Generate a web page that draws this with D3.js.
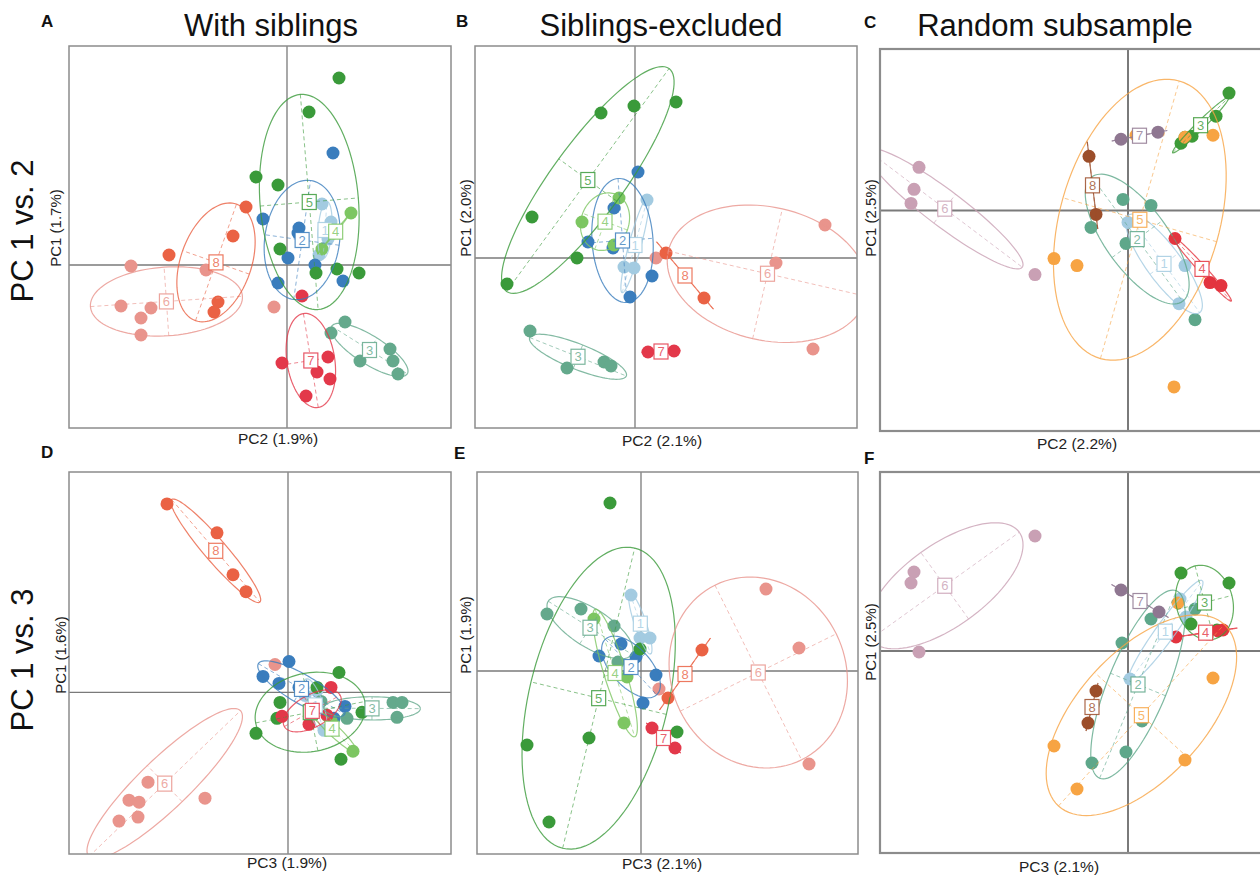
<!DOCTYPE html>
<html>
<head>
<meta charset="utf-8">
<script src="https://cdn.jsdelivr.net/npm/d3@7"></script>
<style>
  body { margin: 0; background: #fff; }
  svg { font-family: Arial, "Liberation Sans", sans-serif; }
</style>
</head>
<body>
<svg id="chart" width="1260" height="875"></svg>
<script>
// class labels and colours
const groups = ["1", "2", "3", "4", "5", "6", "7", "8"];
const siblingColors = ["#a3cbe1", "#3a7dbd", "#64a98c", "#7dc662", "#3a9a3a", "#e9948c", "#e3384a", "#ea6244"];
const randomColors = ["#a3cbe1", "#5ea78a", "#3d9b38", "#e3343f", "#f7a443", "#c9a0b4", "#8f7791", "#9c4e2a"];

const colTitles = ["With siblings", "Siblings-excluded", "Random subsample"];
const rowTitles = ["PC 1 vs. 2", "PC 1 vs. 3"];
const panelLetters = ["A", "B", "C", "D", "E", "F"];
const xLabels = ["PC2 (1.9%)", "PC2 (2.1%)", "PC2 (2.2%)", "PC3 (1.9%)", "PC3 (2.1%)", "PC3 (2.1%)"];
const yLabels = ["PC1 (1.7%)", "PC1 (2.0%)", "PC1 (2.5%)", "PC1 (1.6%)", "PC1 (1.9%)", "PC1 (2.5%)"];

// visible extent of each panel, in score units
const xDomains = [[-21.8, 16.4], [-16.0, 22.2], [-24.8, 13.5], [-21.9, 16.3], [-16.4, 21.7], [-24.8, 13.5]];
const yDomains = [[-16.3, 21.9], [-17.0, 21.2], [-22.0, 16.1], [-16.2, 22.1], [-18.3, 19.9], [-20.2, 17.9]];

// scores per class, [x, y]
const scoresA = {
  "1": [[3.5, 6.1], [4.4, 4.3], [4.1, 2.6], [3.2, 1.0]],
  "2": [[4.6, 11.2], [-2.4, 4.6], [1.2, 3.7], [1.1, 3.2], [0.1, 0.7], [-0.9, -1.8], [2.8, 0.0], [5.6, -1.6]],
  "3": [[5.8, -5.7], [4.4, -6.8], [10.3, -8.4], [10.6, -9.6], [11.1, -10.9], [7.3, -9.6]],
  "4": [[6.4, 5.2], [4.7, 3.2], [3.5, 1.6]],
  "5": [[5.2, 18.7], [2.2, 15.3], [-3.1, 8.8], [-0.9, 8.0], [-0.7, 1.6], [5.0, -0.4], [7.2, -0.8], [2.9, -0.8]],
  "6": [[-15.6, -0.1], [-16.6, -4.1], [-14.6, -5.3], [-13.6, -4.3], [-14.6, -7.0], [-1.3, -4.2], [-8.1, -0.5]],
  "7": [[1.5, -3.1], [-0.5, -9.8], [4.1, -9.2], [3.0, -10.7], [4.3, -11.4], [1.9, -13.1]],
  "8": [[-4.1, 5.8], [-5.4, 2.9], [-11.8, 1.0], [-6.9, -3.7], [-7.3, -4.7]]
};
const scoresB = {
  "1": [[1.2, 5.8], [-1.1, -0.9], [-0.1, -1.0]],
  "2": [[0.3, 8.6], [-2.1, 5.0], [-4.7, 1.6], [-2.2, 1.0], [1.7, -1.8], [-0.5, -3.9]],
  "3": [[-10.5, -7.3], [-6.8, -11.0], [-3.1, -10.4], [-2.4, -10.8]],
  "4": [[-5.3, 3.6], [-2.1, 1.3], [-1.6, 6.0]],
  "5": [[4.1, 15.6], [-0.1, 15.2], [-3.4, 14.5], [-10.3, 4.1], [-5.8, 0.0], [-12.8, -2.6]],
  "6": [[19.0, 3.3], [14.1, -0.5], [2.1, 0.0], [17.8, -9.1]],
  "7": [[1.3, -9.4], [3.9, -9.3]],
  "8": [[3.1, 0.5], [6.9, -4.0]]
};
const scoresC = {
  "1": [[0.0, -1.2], [5.7, -5.5], [5.1, -9.3]],
  "2": [[-0.5, 1.1], [2.3, 0.5], [-3.7, -1.7], [-0.2, -3.3], [6.7, -10.9]],
  "3": [[10.1, 11.7], [8.8, 9.4], [6.4, 7.4], [5.7, 7.3], [5.3, 6.7]],
  "4": [[4.7, -2.8], [8.2, -7.2], [9.3, -7.5]],
  "5": [[5.7, 7.3], [8.5, 7.5], [-7.4, -4.8], [-5.1, -5.5], [4.6, -17.6], [0.8, 7.5]],
  "6": [[-20.9, 4.3], [-21.4, 2.1], [-21.7, 0.7], [-9.3, -6.4]],
  "7": [[-0.7, 7.1], [3.0, 7.8]],
  "8": [[-3.9, 5.4], [-3.2, -0.4]]
};
const scoresD = {
  "1": [[2.9, 0.2], [3.6, -3.8], [1.7, -0.3]],
  "2": [[0.1, 3.1], [-2.5, 1.6], [-0.9, 0.9], [1.1, 0.5], [5.7, -1.4], [4.6, -2.6]],
  "3": [[5.9, -2.6], [10.5, -1.0], [11.4, -1.0], [10.9, -2.5], [3.3, -0.9]],
  "4": [[6.5, -5.9], [4.3, -2.8], [2.4, -2.2]],
  "5": [[5.1, 2.0], [-0.8, -1.0], [-1.1, -2.6], [-3.2, -4.1], [7.4, -2.0], [5.3, -6.7], [2.9, 0.5]],
  "6": [[-14.0, -9.0], [-15.9, -10.8], [-14.9, -11.0], [-16.9, -12.9], [-15.0, -12.5], [-8.3, -10.6], [-1.3, 2.8]],
  "7": [[4.3, 0.5], [-0.6, -2.4], [2.1, -3.2], [3.9, -2.3]],
  "8": [[-12.1, 18.9], [-7.1, 16.0], [-5.5, 11.8], [-4.2, 10.1]]
};
const scoresE = {
  "1": [[-1.0, 7.6], [-0.1, 3.3], [0.9, 3.3]],
  "2": [[-2.0, 2.7], [-4.2, 1.5], [-0.5, 1.4], [1.5, -0.4], [0.2, -3.2]],
  "3": [[-9.4, 5.7], [-6.0, 6.2], [-2.7, 4.5], [-2.3, 0.9]],
  "4": [[-4.7, 5.2], [-1.4, -0.6], [-1.7, -5.2]],
  "5": [[-3.1, 16.8], [-11.4, -7.4], [-5.2, -6.7], [-9.2, -15.1], [3.6, -6.1], [-0.1, 2.2]],
  "6": [[12.5, 8.2], [15.8, 2.3], [1.8, -1.8], [16.8, -9.3]],
  "7": [[1.1, -5.7], [3.4, -7.7]],
  "8": [[6.1, 2.1], [2.7, -2.7]]
};
const scoresF = {
  "1": [[5.2, 5.2], [5.8, 3.4], [0.2, -2.8]],
  "2": [[2.3, 3.2], [6.7, 4.2], [-0.6, 0.8], [1.4, -7.0], [-0.2, -10.1], [-3.6, -11.2]],
  "3": [[5.3, 7.8], [10.1, 6.8], [6.3, 2.7], [8.9, 2.1]],
  "4": [[4.8, 1.4], [9.0, 2.0], [9.5, 2.1]],
  "5": [[5.0, 4.8], [8.5, -2.7], [-7.4, -9.5], [5.7, -10.9], [-5.1, -13.8]],
  "6": [[-9.3, 11.5], [-21.4, 7.9], [-21.7, 6.8], [-20.9, -0.1]],
  "7": [[-0.7, 6.1], [3.1, 3.9]],
  "8": [[-3.2, -4.0], [-4.0, -7.2]]
};

// layout
const frames = [[69, 46, 451, 428], [475, 46, 857, 428], [880, 49, 1263, 431],
                [69, 472, 451, 854], [477, 472, 858, 854], [880, 472, 1263, 853]];
const panelScores = [scoresA, scoresB, scoresC, scoresD, scoresE, scoresF];
const panelColors = [siblingColors, siblingColors, randomColors, siblingColors, siblingColors, randomColors];
const ellipseCoef = 1.5;

const svg = d3.select("#chart");

// titles
const titleX = [271, 661, 1055];
colTitles.forEach((t, i) => {
  svg.append("text").attr("x", titleX[i]).attr("y", 36)
    .attr("text-anchor", "middle").attr("font-size", 31).attr("fill", "#111").text(t);
});
const rowY = [231, 660];
rowTitles.forEach((t, i) => {
  svg.append("text").attr("transform", `translate(33,${rowY[i]}) rotate(-90)`)
    .attr("text-anchor", "middle").attr("font-size", 31).attr("fill", "#111").text(t);
});

const letterPos = [[41, 27], [456, 27], [864, 28], [41, 458], [454, 459], [864, 464]];
const xLabelPos = [[278, 444], [662, 446], [1077, 449], [287, 868], [662, 869], [1059, 872]];
const yLabelPos = [[61, 228], [471, 218], [876, 218], [66, 655], [471, 635], [876, 642]];

function classStats(pts) {
  const n = pts.length;
  const mx = d3.mean(pts, p => p[0]);
  const my = d3.mean(pts, p => p[1]);
  let vx = 0, vy = 0, cxy = 0;
  pts.forEach(([x, y]) => {
    vx += (x - mx) ** 2 / n;
    vy += (y - my) ** 2 / n;
    cxy += (x - mx) * (y - my) / n;
  });
  const delta = Math.sqrt((vx - vy) ** 2 + 4 * cxy * cxy);
  let l1 = (vx + vy + delta) / 2;
  let l2 = vx + vy - l1;
  l1 = Math.sqrt(Math.max(l1, 0));
  l2 = Math.sqrt(Math.max(l2, 0));
  const theta = 0.5 * Math.atan2(2 * cxy, vx - vy);
  return {mx, my, l1, l2, c: Math.cos(theta), s: Math.sin(theta)};
}

panelScores.forEach((scores, pi) => {
  const [x0, y0, x1, y1] = frames[pi];
  const x = d3.scaleLinear().domain(xDomains[pi]).range([x0, x1]);
  const y = d3.scaleLinear().domain(yDomains[pi]).range([y1, y0]);
  const color = d3.scaleOrdinal().domain(groups).range(panelColors[pi]);
  const thick = pi % 3 === 2 ? 2 : 1.3;

  const g = svg.append("g");
  g.append("clipPath").attr("id", "clip" + pi)
    .append("rect").attr("x", x0).attr("y", y0).attr("width", x1 - x0).attr("height", y1 - y0);

  // axes through origin
  g.append("line").attr("x1", x0).attr("x2", x1).attr("y1", y(0)).attr("y2", y(0))
    .attr("stroke", "#7a7a7a").attr("stroke-width", thick);
  g.append("line").attr("x1", x(0)).attr("x2", x(0)).attr("y1", y0).attr("y2", y1)
    .attr("stroke", "#7a7a7a").attr("stroke-width", thick);

  const plot = g.append("g").attr("clip-path", `url(#clip${pi})`);

  // points
  groups.forEach(k => {
    plot.selectAll(null).data(scores[k]).join("circle")
      .attr("cx", d => x(d[0])).attr("cy", d => y(d[1])).attr("r", 6.5)
      .attr("fill", color(k));
  });

  // ellipses with their (dashed) axes
  groups.forEach(k => {
    const st = classStats(scores[k]);
    const col = color(k);
    const a = ellipseCoef * st.l1, b = ellipseCoef * st.l2;
    const axes = [
      [[st.mx - a * st.c, st.my - a * st.s], [st.mx + a * st.c, st.my + a * st.s]],
      [[st.mx + b * st.s, st.my - b * st.c], [st.mx - b * st.s, st.my + b * st.c]]
    ];
    plot.selectAll(null).data(axes).join("line")
      .attr("x1", d => x(d[0][0])).attr("y1", d => y(d[0][1]))
      .attr("x2", d => x(d[1][0])).attr("y2", d => y(d[1][1]))
      .attr("stroke", col).attr("stroke-opacity", 0.6).attr("stroke-width", 1)
      .attr("stroke-dasharray", "4,3");

    const ell = d3.range(0, 101).map(i => {
      const t = 2 * Math.PI * i / 100;
      return [st.mx + a * st.c * Math.cos(t) - b * st.s * Math.sin(t),
              st.my + a * st.s * Math.cos(t) + b * st.c * Math.sin(t)];
    });
    plot.append("path")
      .attr("d", d3.line().x(d => x(d[0])).y(d => y(d[1]))(ell))
      .attr("fill", "none").attr("stroke", col).attr("stroke-opacity", 0.8)
      .attr("stroke-width", 1.2);
  });

  // class labels at centroids
  groups.forEach(k => {
    const st = classStats(scores[k]);
    const col = color(k);
    const cx = x(st.mx), cy = y(st.my);
    plot.append("rect").attr("x", cx - 7).attr("y", cy - 7.5).attr("width", 14).attr("height", 15)
      .attr("fill", "#fff").attr("stroke", col).attr("stroke-opacity", 0.85).attr("stroke-width", 1.2);
    plot.append("text").attr("x", cx).attr("y", cy + 4.5)
      .attr("text-anchor", "middle").attr("font-size", 13).attr("fill", col).attr("fill-opacity", 0.8)
      .text(k);
  });

  // frame
  g.append("rect").attr("x", x0).attr("y", y0).attr("width", x1 - x0).attr("height", y1 - y0)
    .attr("fill", "none").attr("stroke", "#8c8c8c").attr("stroke-width", thick + 0.2);

  svg.append("text").attr("x", letterPos[pi][0]).attr("y", letterPos[pi][1])
    .attr("font-size", 17).attr("font-weight", "bold").attr("fill", "#111").text(panelLetters[pi]);
  svg.append("text").attr("x", xLabelPos[pi][0]).attr("y", xLabelPos[pi][1])
    .attr("text-anchor", "middle").attr("font-size", 15.5).attr("fill", "#222").text(xLabels[pi]);
  svg.append("text").attr("transform", `translate(${yLabelPos[pi][0]},${yLabelPos[pi][1]}) rotate(-90)`)
    .attr("text-anchor", "middle").attr("font-size", 15).attr("fill", "#222").text(yLabels[pi]);
});
</script>
</body>
</html>
